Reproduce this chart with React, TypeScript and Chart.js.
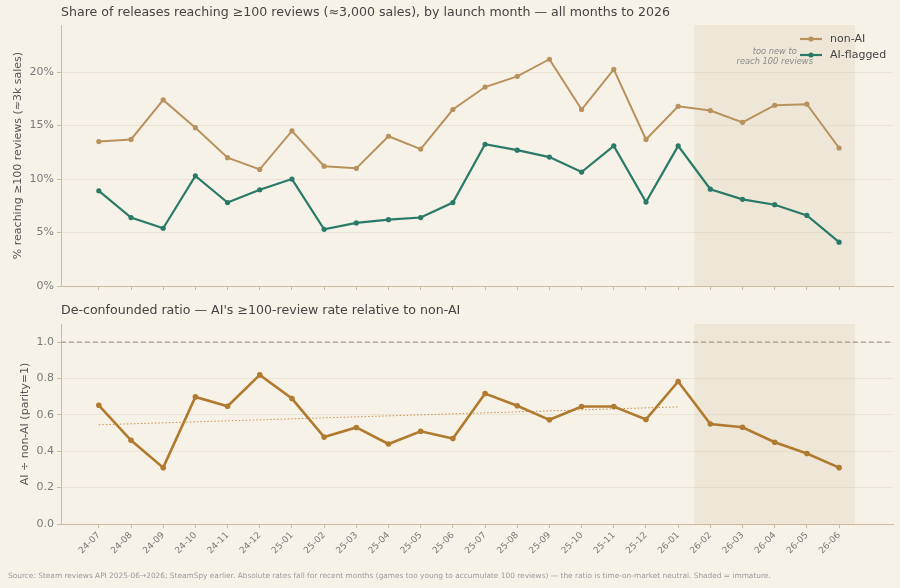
import React, { useEffect, useRef } from "react";
import { Chart, registerables } from "chart.js";

Chart.register(...registerables);

const months = [
  "24-07", "24-08", "24-09", "24-10", "24-11", "24-12",
  "25-01", "25-02", "25-03", "25-04", "25-05", "25-06",
  "25-07", "25-08", "25-09", "25-10", "25-11", "25-12",
  "26-01", "26-02", "26-03", "26-04", "26-05", "26-06",
];
const nonAI = [13.5, 13.7, 17.4, 14.8, 12.0, 10.9, 14.5, 11.2, 11.0, 14.0, 12.8, 16.5, 18.6, 19.6, 21.2, 16.5, 20.25, 13.7, 16.8, 16.4, 15.3, 16.9, 17.0, 12.9];
const aiFlagged = [8.9, 6.4, 5.4, 10.3, 7.8, 9.0, 10.0, 5.3, 5.9, 6.2, 6.4, 7.8, 13.25, 12.7, 12.05, 10.65, 13.1, 7.85, 13.1, 9.05, 8.1, 7.6, 6.6, 4.1];
const ratio = [0.653, 0.46, 0.31, 0.699, 0.648, 0.82, 0.69, 0.478, 0.531, 0.44, 0.51, 0.47, 0.718, 0.65, 0.573, 0.646, 0.646, 0.575, 0.784, 0.55, 0.532, 0.45, 0.388, 0.31];
const matureCount = 19; // 24-07 .. 26-01 used for the trend
const immatureSpan = [18.5, 23.5];
const topTicks = [0, 5, 10, 15, 20];
const bottomTicks = [0, 0.2, 0.4, 0.6, 0.8, 1.0];
const parity = 1.0;

const TITLE_TOP = "Share of releases reaching \u2265100 reviews (\u22483,000 sales), by launch month \u2014 all months to 2026";
const TITLE_BOTTOM = "De-confounded ratio \u2014 AI's \u2265100-review rate relative to non-AI";
const YLABEL_TOP = "% reaching \u2265100 reviews (\u22483k sales)";
const YLABEL_BOTTOM = "AI \u00f7 non-AI (parity=1)";
const FOOTER = "Source: Steam reviews API 2025-06\u21922026; SteamSpy earlier. Absolute rates fall for recent months (games too young to accumulate 100 reviews) \u2014 the ratio is time-on-market neutral. Shaded = immature.";

const FONT = "DejaVu Sans";
const BG = "#f7f2e8";
const NONAI_C = "#b8915d";
const TEAL_C = "#2a7a6a";
const RATIO_C = "#b07a2f";
const AXIS_C = "#cbbc9e";
const GRID_C = "#ebe3d3";
const TICK_TXT = "#7a7a7a";
const X_MIN = -1.175;
const X_MAX = 24.675;

function trendLine(vals: number[], n: number) {
  const xs = vals.slice(0, n).map((_, i) => i);
  const ys = vals.slice(0, n);
  const mx = xs.reduce((a, b) => a + b, 0) / n;
  const my = ys.reduce((a, b) => a + b, 0) / n;
  let num = 0, den = 0;
  xs.forEach((x, i) => { num += (x - mx) * (ys[i] - my); den += (x - mx) * (x - mx); });
  const slope = num / den;
  return xs.map((x) => ({ x, y: my + slope * (x - mx) }));
}

const shadePlugin = {
  id: "shade",
  beforeDatasetsDraw(chart: any) {
    const { ctx, chartArea, scales } = chart;
    const x0 = scales.x.getPixelForValue(immatureSpan[0]);
    const x1 = scales.x.getPixelForValue(immatureSpan[1]);
    ctx.save();
    ctx.fillStyle = "rgba(222, 209, 180, 0.32)";
    ctx.fillRect(x0, chartArea.top, x1 - x0, chartArea.bottom - chartArea.top);
    ctx.restore();
  },
};

function titlePlugin(text: string, y: number) {
  return {
    id: "ttl",
    afterDraw(chart: any) {
      const { ctx, chartArea } = chart;
      ctx.save();
      ctx.font = `12.6px "${FONT}"`;
      ctx.fillStyle = "#444444";
      ctx.textAlign = "left";
      ctx.textBaseline = "middle";
      ctx.fillText(text, chartArea.left, y);
      ctx.restore();
    },
  };
}

const legendPlugin = {
  id: "lgd",
  afterDraw(chart: any) {
    const { ctx, scales } = chart;
    ctx.save();
    const cx = scales.x.getPixelForValue((immatureSpan[0] + immatureSpan[1]) / 2);
    ctx.font = `italic 8.3px "${FONT}"`;
    ctx.fillStyle = "#8a8a8a";
    ctx.textAlign = "center";
    ctx.textBaseline = "middle";
    ctx.fillText("too new to", cx, 52);
    ctx.fillText("reach 100 reviews", cx, 62);
    const items = [
      { label: "non-AI", color: NONAI_C, y: 39 },
      { label: "AI-flagged", color: TEAL_C, y: 55 },
    ];
    items.forEach((it) => {
      ctx.strokeStyle = it.color;
      ctx.lineWidth = 2.2;
      ctx.beginPath();
      ctx.moveTo(800, it.y);
      ctx.lineTo(822, it.y);
      ctx.stroke();
      ctx.fillStyle = it.color;
      ctx.beginPath();
      ctx.arc(811, it.y, 2.6, 0, Math.PI * 2);
      ctx.fill();
      ctx.fillStyle = "#444444";
      ctx.font = `11px "${FONT}"`;
      ctx.textAlign = "left";
      ctx.fillText(it.label, 830, it.y);
    });
    ctx.restore();
  },
};

const parityPlugin = {
  id: "parity",
  beforeDatasetsDraw(chart: any) {
    const { ctx, chartArea, scales } = chart;
    const y = scales.y.getPixelForValue(parity);
    ctx.save();
    ctx.strokeStyle = "#a89a8a";
    ctx.lineWidth = 1.2;
    ctx.setLineDash([5, 3]);
    ctx.beginPath();
    ctx.moveTo(chartArea.left, y);
    ctx.lineTo(chartArea.right, y);
    ctx.stroke();
    ctx.restore();
  },
};

const footerPlugin = {
  id: "footer",
  afterDraw(chart: any) {
    const { ctx } = chart;
    ctx.save();
    ctx.font = `7.4px "${FONT}"`;
    ctx.fillStyle = "#9a9a9a";
    ctx.textAlign = "left";
    ctx.textBaseline = "middle";
    ctx.fillText(FOOTER, 8, 281);
    ctx.restore();
  },
};

function xScale(showLabels: boolean, height: number) {
  return {
    type: "linear",
    min: X_MIN,
    max: X_MAX,
    afterBuildTicks: (s: any) => { s.ticks = months.map((_, i) => ({ value: i })); },
    afterFit: (s: any) => { s.height = height; },
    ticks: {
      display: showLabels,
      autoSkip: false,
      minRotation: 45,
      maxRotation: 45,
      padding: 2,
      color: TICK_TXT,
      font: { size: 9, family: FONT },
      callback: (v: any) => months[v] ?? "",
    },
    grid: { drawOnChartArea: false, drawTicks: true, tickLength: 4, tickColor: AXIS_C, color: AXIS_C },
    border: { display: true, color: AXIS_C, width: 1 },
  };
}

export default function App() {
  const topRef = useRef<HTMLCanvasElement>(null);
  const botRef = useRef<HTMLCanvasElement>(null);

  useEffect(() => {
    Chart.defaults.font.family = FONT;
    const top = new Chart(topRef.current!, {
      type: "line",
      data: {
        datasets: [
          {
            label: "non-AI",
            data: nonAI.map((y, i) => ({ x: i, y })),
            borderColor: NONAI_C,
            backgroundColor: NONAI_C,
            borderWidth: 2,
            pointRadius: 2.6,
            pointBorderWidth: 0,
          },
          {
            label: "AI-flagged",
            data: aiFlagged.map((y, i) => ({ x: i, y })),
            borderColor: TEAL_C,
            backgroundColor: TEAL_C,
            borderWidth: 2.2,
            pointRadius: 2.6,
            pointBorderWidth: 0,
          },
        ],
      },
      options: {
        animation: false,
        responsive: false,
        events: [],
        layout: { padding: { top: 25, right: 7, left: 0, bottom: 0 } },
        plugins: { legend: { display: false }, tooltip: { enabled: false } },
        scales: {
          x: xScale(false, 14) as any,
          y: {
            min: 0,
            max: 24.4,
            afterBuildTicks: (s: any) => { s.ticks = topTicks.map((v) => ({ value: v })); },
            afterFit: (s: any) => { s.width = 61; },
            ticks: { color: TICK_TXT, font: { size: 11, family: FONT }, padding: 3, callback: (v: any) => `${v}%` },
            grid: { color: GRID_C, tickColor: AXIS_C, tickLength: 4 },
            border: { display: true, color: AXIS_C },
            title: { display: true, text: YLABEL_TOP, color: "#555555", font: { size: 11, family: FONT }, padding: { top: 12, bottom: 0 } },
          },
        },
      },
      plugins: [shadePlugin, titlePlugin(TITLE_TOP, 13), legendPlugin],
    } as any);

    const bot = new Chart(botRef.current!, {
      type: "line",
      data: {
        datasets: [
          {
            label: "ratio",
            data: ratio.map((y, i) => ({ x: i, y })),
            borderColor: RATIO_C,
            backgroundColor: RATIO_C,
            borderWidth: 2.6,
            pointRadius: 2.8,
            pointBorderWidth: 0,
          },
          {
            label: "trend",
            data: trendLine(ratio, matureCount),
            borderColor: "#c98f4a",
            borderWidth: 1,
            borderDash: [1.5, 2],
            pointRadius: 0,
          },
        ],
      },
      options: {
        animation: false,
        responsive: false,
        events: [],
        layout: { padding: { top: 29, right: 7, left: 0, bottom: 0 } },
        plugins: { legend: { display: false }, tooltip: { enabled: false } },
        scales: {
          x: xScale(true, 64) as any,
          y: {
            min: 0,
            max: 1.1,
            afterBuildTicks: (s: any) => { s.ticks = bottomTicks.map((v) => ({ value: v })); },
            afterFit: (s: any) => { s.width = 61; },
            ticks: { color: TICK_TXT, font: { size: 11, family: FONT }, padding: 3, callback: (v: any) => Number(v).toFixed(1) },
            grid: { color: GRID_C, tickColor: AXIS_C, tickLength: 4 },
            border: { display: true, color: AXIS_C },
            title: { display: true, text: YLABEL_BOTTOM, color: "#555555", font: { size: 11, family: FONT }, padding: { top: 19, bottom: 0 } },
          },
        },
      },
      plugins: [shadePlugin, parityPlugin, titlePlugin(TITLE_BOTTOM, 16), footerPlugin],
    } as any);

    return () => {
      top.destroy();
      bot.destroy();
    };
  }, []);

  return (
    <div style={{ position: "absolute", left: 0, top: 0, width: 900, height: 588, background: BG, overflow: "hidden" }}>
      <canvas ref={topRef} width={900} height={300} style={{ position: "absolute", left: 0, top: 0, width: 900, height: 300 }} />
      <canvas ref={botRef} width={900} height={293} style={{ position: "absolute", left: 0, top: 295, width: 900, height: 293 }} />
    </div>
  );
}
